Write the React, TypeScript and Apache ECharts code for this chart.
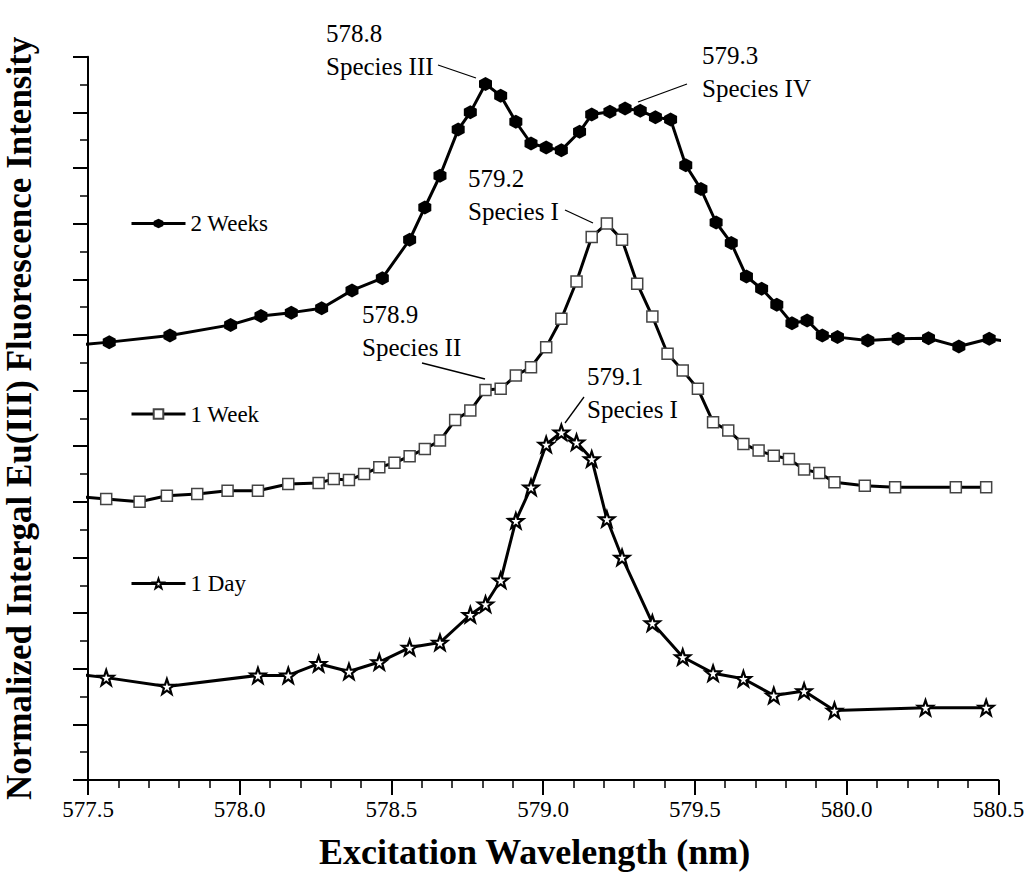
import React, { useEffect, useRef } from "react";
import * as echarts from "echarts";

// ---- data ----
const weeks2X = [577.45, 577.57, 577.77, 577.97, 578.07, 578.17, 578.27, 578.37, 578.47, 578.56, 578.61, 578.66, 578.72, 578.76, 578.81, 578.86, 578.91, 578.96, 579.01, 579.06, 579.12, 579.16, 579.22, 579.27, 579.32, 579.37, 579.42, 579.47, 579.52, 579.57, 579.62, 579.67, 579.72, 579.77, 579.82, 579.87, 579.92, 579.97, 580.07, 580.17, 580.27, 580.37, 580.47, 580.55];
const weeks2Y = [7.81, 7.87, 7.99, 8.18, 8.34, 8.40, 8.48, 8.80, 9.02, 9.71, 10.29, 10.86, 11.69, 12.00, 12.51, 12.30, 11.83, 11.44, 11.37, 11.32, 11.65, 11.96, 12.01, 12.07, 12.03, 11.91, 11.87, 11.05, 10.62, 10.02, 9.65, 9.05, 8.83, 8.54, 8.21, 8.26, 7.99, 7.96, 7.90, 7.93, 7.94, 7.79, 7.93, 7.87];

const week1X = [577.45, 577.56, 577.67, 577.76, 577.86, 577.96, 578.06, 578.16, 578.26, 578.31, 578.36, 578.41, 578.46, 578.51, 578.56, 578.61, 578.66, 578.71, 578.76, 578.81, 578.86, 578.91, 578.96, 579.01, 579.06, 579.11, 579.16, 579.21, 579.26, 579.31, 579.36, 579.41, 579.46, 579.51, 579.56, 579.61, 579.66, 579.71, 579.76, 579.81, 579.86, 579.91, 579.96, 580.06, 580.16, 580.36, 580.46];
const week1Y = [5.10, 5.05, 5.00, 5.11, 5.14, 5.20, 5.20, 5.32, 5.34, 5.41, 5.39, 5.50, 5.62, 5.70, 5.82, 5.95, 6.10, 6.47, 6.64, 7.01, 7.03, 7.27, 7.42, 7.78, 8.29, 8.96, 9.76, 10.00, 9.71, 8.92, 8.33, 7.66, 7.36, 7.03, 6.43, 6.28, 6.04, 5.92, 5.83, 5.77, 5.58, 5.52, 5.35, 5.29, 5.26, 5.26, 5.26];

const day1X = [577.45, 577.56, 577.76, 578.06, 578.16, 578.26, 578.36, 578.46, 578.56, 578.66, 578.76, 578.81, 578.86, 578.91, 578.96, 579.01, 579.06, 579.11, 579.16, 579.21, 579.26, 579.36, 579.46, 579.56, 579.66, 579.76, 579.86, 579.96, 580.26, 580.46];
const day1Y = [1.91, 1.84, 1.68, 1.88, 1.88, 2.09, 1.95, 2.12, 2.38, 2.47, 2.97, 3.16, 3.59, 4.66, 5.26, 6.03, 6.25, 6.07, 5.77, 4.69, 4.00, 2.82, 2.21, 1.92, 1.82, 1.52, 1.60, 1.25, 1.30, 1.30];

const seriesNames = ["2 Weeks", "1 Week", "1 Day"];
const annotations = [
  "578.8\nSpecies III",
  "579.3\nSpecies IV",
  "579.2\nSpecies I",
  "578.9\nSpecies II",
  "579.1\nSpecies I",
];
const xTitle = "Excitation Wavelength (nm)";
const yTitle = "Normalized Intergal Eu(III) Fluorescence Intensity";

const FONT = "Liberation Serif";
const HEX = "path://M0,-1L0.866,-0.5L0.866,0.5L0,1L-0.866,0.5L-0.866,-0.5Z";
const STAR =
  "path://M0,-1L0.235,-0.324L0.951,-0.309L0.38,0.124L0.588,0.809L0,0.4L-0.588,0.809L-0.38,0.124L-0.951,-0.309L-0.235,-0.324Z";

const zip = (xs: number[], ys: number[]) => xs.map((x, i) => [x, ys[i]]);

export default function App() {
  const ref = useRef<HTMLDivElement>(null);
  useEffect(() => {
    if (!ref.current) return;
    const chart = echarts.init(ref.current, undefined, { renderer: "svg" });
    const annFont = `25px "${FONT}"`;
    const annText = (i: number, x: number, y: number) => ({
      type: "text",
      x,
      y,
      style: {
        text: annotations[i],
        font: annFont,
        fill: "#000",
        lineHeight: 33,
        align: "left",
        verticalAlign: "top",
      },
    });
    const lead = (x1: number, y1: number, x2: number, y2: number) => ({
      type: "line",
      shape: { x1, y1, x2, y2 },
      style: { stroke: "#000", lineWidth: 1.3 },
    });
    const legendBase = {
      left: 125,
      orient: "vertical",
      itemWidth: 54,
      itemHeight: 12,
      selectedMode: false,
      lineStyle: { width: 3 },
      textStyle: { fontSize: 23, fontFamily: FONT, color: "#000" },
    };
    chart.setOption({
      animation: false,
      backgroundColor: "#fff",
      textStyle: { fontFamily: FONT },
      grid: {
        left: 88,
        right: 27.7,
        top: 56.7,
        bottom: 92,
        containLabel: false,
        outerBoundsMode: "none",
      },
      legend: [
        { ...legendBase, top: 207, data: [seriesNames[0]] },
        { ...legendBase, top: 397.5, data: [seriesNames[1]] },
        { ...legendBase, top: 567, data: [seriesNames[2]] },
      ],
      xAxis: {
        type: "value",
        min: 577.5,
        max: 580.5,
        interval: 0.5,
        name: xTitle,
        nameLocation: "middle",
        nameGap: 54,
        nameTextStyle: {
          fontSize: 36,
          fontWeight: "bold",
          fontFamily: FONT,
          color: "#000",
          padding: [0, 17, 0, 0],
        },
        axisLine: { show: true, onZero: false, lineStyle: { color: "#000", width: 2 } },
        axisTick: { show: true, inside: false, length: 15, lineStyle: { color: "#000", width: 2 } },
        minorTick: { show: true, splitNumber: 5, length: 8, lineStyle: { color: "#000", width: 1.5 } },
        splitLine: { show: false },
        minorSplitLine: { show: false },
        axisLabel: {
          show: true,
          margin: 18,
          fontSize: 23,
          fontFamily: FONT,
          color: "#000",
          formatter: (v: number) => v.toFixed(1),
        },
      },
      yAxis: {
        type: "value",
        min: 0,
        max: 13,
        interval: 1,
        name: yTitle,
        nameLocation: "middle",
        nameGap: 51,
        nameTextStyle: { fontSize: 35, fontWeight: "bold", fontFamily: FONT, color: "#000" },
        axisLine: { show: true, onZero: false, lineStyle: { color: "#000", width: 2 } },
        axisTick: { show: true, inside: false, length: 15, lineStyle: { color: "#000", width: 2 } },
        minorTick: { show: true, splitNumber: 2, length: 8, lineStyle: { color: "#000", width: 1.5 } },
        splitLine: { show: false },
        minorSplitLine: { show: false },
        axisLabel: { show: false },
      },
      series: [
        {
          name: seriesNames[0],
          type: "line",
          data: zip(weeks2X, weeks2Y),
          clip: true,
          symbol: HEX,
          symbolSize: [13, 14],
          showAllSymbol: true,
          lineStyle: { color: "#000", width: 3 },
          itemStyle: { color: "#000", borderColor: "#000", borderWidth: 0 },
        },
        {
          name: seriesNames[1],
          type: "line",
          data: zip(week1X, week1Y),
          clip: true,
          symbol: "rect",
          symbolSize: 11,
          showAllSymbol: true,
          lineStyle: { color: "#000", width: 3 },
          itemStyle: { color: "#fff", borderColor: "#444", borderWidth: 1.5 },
        },
        {
          name: seriesNames[2],
          type: "line",
          data: zip(day1X, day1Y),
          clip: true,
          symbol: STAR,
          symbolSize: 15,
          showAllSymbol: true,
          lineStyle: { color: "#000", width: 3 },
          itemStyle: { color: "#fff", borderColor: "#000", borderWidth: 2.2 },
        },
      ],
      graphic: [
        annText(0, 326, 16.5),
        lead(438, 65, 476, 78),
        annText(1, 702, 38.5),
        lead(687, 84, 638, 102),
        annText(2, 468, 161.5),
        lead(565, 210, 593, 223),
        annText(3, 362, 297.5),
        lead(422, 363, 485, 379),
        annText(4, 587, 360),
        lead(584, 397, 565, 423),
      ],
    });
    return () => chart.dispose();
  }, []);
  return (
    <div
      ref={ref}
      style={{ position: "absolute", left: 0, top: 0, width: 1026, height: 872 }}
    />
  );
}
